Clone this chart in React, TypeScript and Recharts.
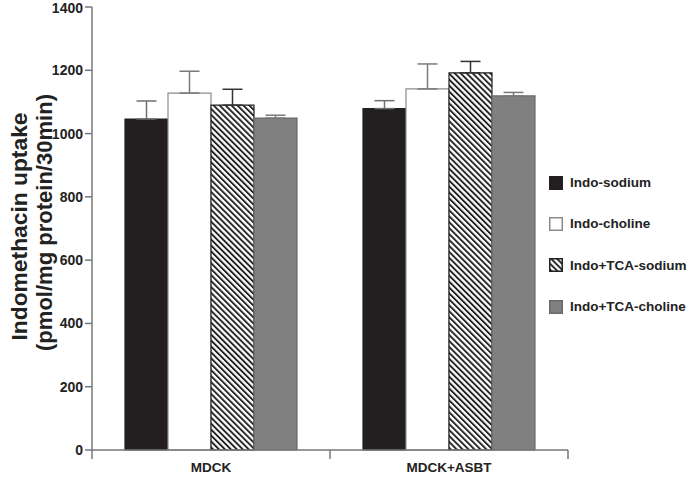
import { Bar, BarChart, ErrorBar, Label, XAxis, YAxis } from 'recharts';

const categories = ['MDCK', 'MDCK+ASBT'];
const indoSodium = [1046, 1079];
const indoSodiumErr = [57, 25];
const indoCholine = [1128, 1141];
const indoCholineErr = [69, 79];
const tcaSodium = [1090, 1192];
const tcaSodiumErr = [50, 36];
const tcaCholine = [1049, 1119];
const tcaCholineErr = [9, 11];
const yTicks = [0, 200, 400, 600, 800, 1000, 1200, 1400];

const data = categories.map((name, i) => ({
	name,
	indoSodium: indoSodium[i],
	indoSodiumErr: [0, indoSodiumErr[i]],
	indoCholine: indoCholine[i],
	indoCholineErr: [0, indoCholineErr[i]],
	tcaSodium: tcaSodium[i],
	tcaSodiumErr: [0, tcaSodiumErr[i]],
	tcaCholine: tcaCholine[i],
	tcaCholineErr: [0, tcaCholineErr[i]],
}));

const series = [
	{ key: 'indoSodium', name: 'Indo-sodium', fill: '#231f20', stroke: '#231f20', err: '#6f6f6f' },
	{ key: 'indoCholine', name: 'Indo-choline', fill: '#ffffff', stroke: '#8c8c8c', err: '#7a7a7a' },
	{ key: 'tcaSodium', name: 'Indo+TCA-sodium', fill: 'url(#hatch)', stroke: '#222222', err: '#333333' },
	{ key: 'tcaCholine', name: 'Indo+TCA-choline', fill: '#808080', stroke: '#6a6a6a', err: '#7a7a7a' },
];

const W = 690;
const H = 477;
const M = { top: 7, right: 122, bottom: 2, left: 0 };
const Y_W = 92;
const band = (W - M.left - M.right - Y_W) / categories.length;
const FONT = '"Liberation Sans", Arial, sans-serif';

const XTick = (props: any) => {
	const { x, y, payload, index } = props;
	const last = index === categories.length - 1;
	return (
		<g>
			<line x1={x - band / 2} x2={x - band / 2} y1={y - 8} y2={y + 1} stroke="#777" strokeWidth={1.5} />
			{last && <line x1={x + band / 2} x2={x + band / 2} y1={y - 8} y2={y + 1} stroke="#777" strokeWidth={1.5} />}
			<text x={x} y={y + 14} textAnchor="middle" fontFamily={FONT} fontWeight="bold" fontSize={13.5} fill="#222">
				{payload.value}
			</text>
		</g>
	);
};

const YLabel = (props: any) => {
	const vb = props.viewBox || {};
	const c1 = vb.y + vb.height / 2 - 2;
	const c2 = vb.y + vb.height / 2 - 6;
	return (
		<g fontFamily={FONT} fontWeight="bold" fontSize={22} fill="#222" textAnchor="middle">
			<text
				x={19}
				y={c1}
				transform={`rotate(-90 19 ${c1})`}
				dominantBaseline="central"
				textLength={228}
				lengthAdjust="spacingAndGlyphs"
			>
				Indomethacin uptake
			</text>
			<text
				x={44}
				y={c2}
				transform={`rotate(-90 44 ${c2})`}
				dominantBaseline="central"
				textLength={257}
				lengthAdjust="spacingAndGlyphs"
			>
				(pmol/mg protein/30min)
			</text>
		</g>
	);
};

const Swatch = (props: { s: (typeof series)[number] }) => (
	<svg width={14} height={14} style={{ display: 'block' }}>
		<defs>
			<pattern id="hatchLegend" width={4.2} height={4.2} patternUnits="userSpaceOnUse" patternTransform="rotate(-45)">
				<rect width={4.2} height={4.2} fill="#fff" />
				<rect width={1.9} height={4.2} fill="#222" />
			</pattern>
		</defs>
		<rect
			x={0.75}
			y={0.75}
			width={12.5}
			height={12.5}
			fill={props.s.key === 'tcaSodium' ? 'url(#hatchLegend)' : props.s.fill}
			stroke={props.s.stroke}
			strokeWidth={1.5}
		/>
	</svg>
);

const LegendBox = () => (
	<div
		style={{
			position: 'absolute',
			left: 549,
			top: 162,
			width: 141,
			fontFamily: FONT,
			fontWeight: 'bold',
			fontSize: 13.5,
			color: '#222',
		}}
	>
		{series.map((s) => (
			<div key={s.key} style={{ display: 'flex', alignItems: 'center', height: 41.3, whiteSpace: 'nowrap' }}>
				<Swatch s={s} />
				<span style={{ marginLeft: 7 }}>{s.name}</span>
			</div>
		))}
	</div>
);

export default function App() {
	return (
		<div style={{ position: 'absolute', left: 0, top: 0, width: W, height: H, background: '#fff' }}>
			<BarChart data={data} width={W} height={H} margin={M} barSize={43} barGap={0}>
				<defs>
					<pattern id="hatch" width={4.2} height={4.2} patternUnits="userSpaceOnUse" patternTransform="rotate(-45)">
						<rect width={4.2} height={4.2} fill="#fff" />
						<rect width={1.9} height={4.2} fill="#222" />
					</pattern>
				</defs>
				<XAxis
					dataKey="name"
					axisLine={{ stroke: '#777', strokeWidth: 1.5 }}
					tickLine={false}
					tick={<XTick />}
					height={25}
				/>
				<YAxis
					domain={[0, 1400]}
					ticks={yTicks}
					width={Y_W}
					axisLine={{ stroke: '#777', strokeWidth: 1.5 }}
					tickLine={{ stroke: '#777', strokeWidth: 1.5 }}
					tickSize={7}
					tick={{ fontFamily: FONT, fontWeight: 'bold', fontSize: 14, fill: '#222' }}
				>
					<Label content={<YLabel />} />
				</YAxis>
				{series.map((s) => (
					<Bar
						key={s.key}
						dataKey={s.key}
						name={s.name}
						fill={s.fill}
						stroke={s.stroke}
						strokeWidth={1.2}
						isAnimationActive={false}
					>
						<ErrorBar dataKey={`${s.key}Err`} width={10} stroke={s.err} strokeWidth={1.5} direction="y" />
					</Bar>
				))}
			</BarChart>
			<LegendBox />
		</div>
	);
}
